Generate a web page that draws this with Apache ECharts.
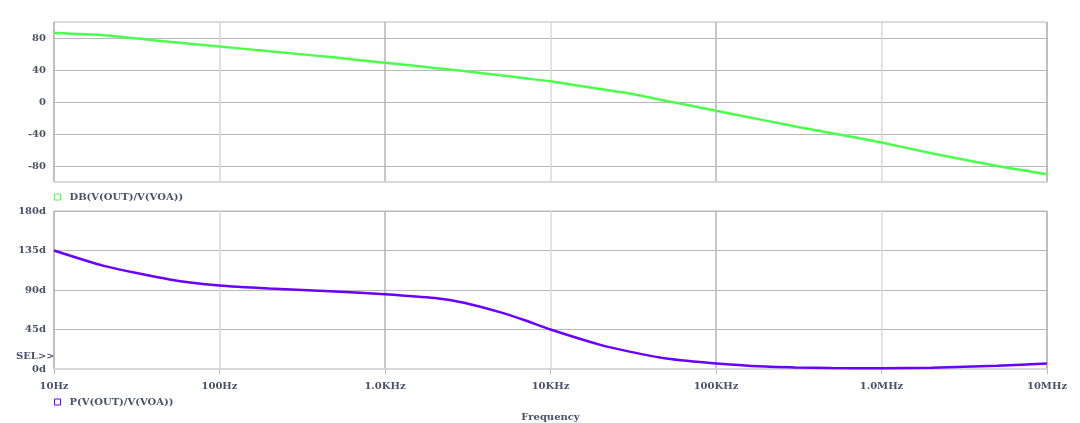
<!DOCTYPE html>
<html>
<head>
<meta charset="utf-8">
<script src="https://cdn.jsdelivr.net/npm/echarts@6/dist/echarts.min.js"></script>
<style>html,body{margin:0;padding:0;background:#fff;}#c{width:1080px;height:423px;}</style>
</head>
<body>
<div id="c"></div>
<script>
const freq = [10,20,50,100,200,500,1e3,2e3,3e3,5e3,7e3,1e4,2e4,3e4,5e4,1e5,2e5,3e5,5e5,1e6,2e6,5e6,1e7];
const magDb = [86.2,83.5,75.3,69.3,63.5,55.5,49.1,42.6,38.8,33.3,29.7,25.8,16.2,10.5,1.4,-10.9,-23.3,-30.5,-39.0,-50.7,-64,-80,-90.3];
const phaseDeg = [135,117.5,102,95,91.6,88.3,85.2,80.8,75.5,64.5,55.5,45,27.5,19.8,12,6.4,2.8,1.8,1.0,0.8,1.5,3.7,6.4];
const xTickValues = [10,100,1e3,1e4,1e5,1e6,1e7];
const xTickLabels = ['10Hz','100Hz','1.0KHz','10KHz','100KHz','1.0MHz','10MHz'];
const magTicks = [-80,-40,0,40,80];
const phaseTicks = [0,45,90,135,180];
const magName = 'DB(V(OUT)/V(VOA))';
const phaseName = 'P(V(OUT)/V(VOA))';

const FONT = 'DejaVu Serif';
const TXT = '#4a5068';
const green = '#4cff4c';
const purple = '#6a00ff';

const chart = echarts.init(document.getElementById('c'));
const labelFor = v => { const i = xTickValues.findIndex(t => Math.abs(t - v) / t < 1e-6); return i >= 0 ? xTickLabels[i] : ''; };
const vSplit = {show:true, lineStyle:{color:['#b4b4b4','#d8d8d8'], width:1.5}};
const txt = {color:TXT, fontFamily:FONT, fontSize:10, fontWeight:'bold'};
chart.setOption({
  animation:false,
  textStyle:{fontFamily:FONT},
  grid:[
    {left:54, right:33, top:22, height:160, show:true, borderColor:'#b8b8b8', borderWidth:1},
    {left:54, right:33, top:211, height:160, show:true, borderColor:'#b8b8b8', borderWidth:1}
  ],
  xAxis:[
    {type:'log', logBase:10, min:10, max:1e7, gridIndex:0,
     axisLine:{show:true, onZero:false, lineStyle:{color:'#d8d8d8', width:2}},
     axisTick:{show:false}, axisLabel:{show:false}, splitLine:vSplit},
    {type:'log', logBase:10, min:10, max:1e7, gridIndex:1,
     name:'Frequency', nameLocation:'middle', nameGap:43,
     nameTextStyle:txt,
     axisLine:{show:true, onZero:false, lineStyle:{color:'#d8d8d8', width:2}},
     axisTick:{show:true, length:5, inside:false, lineStyle:{color:'#b8b8b8'}},
     axisLabel:Object.assign({show:true, margin:12, formatter:labelFor}, txt),
     splitLine:vSplit}
  ],
  yAxis:[
    {type:'value', min:-100, max:100, gridIndex:0,
     axisLine:{show:false}, axisTick:{show:false, customValues:magTicks},
     axisLabel:Object.assign({customValues:magTicks, margin:8, verticalAlign:'middle'}, txt),
     splitLine:{show:true, lineStyle:{color:'#b8b8b8', width:1}}},
    {type:'value', min:0, max:180, interval:45, gridIndex:1,
     axisLine:{show:false}, axisTick:{show:false},
     axisLabel:Object.assign({margin:8, verticalAlign:'middle', formatter:'{value}d'}, txt),
     splitLine:{show:true, lineStyle:{color:'#b8b8b8', width:1}}}
  ],
  legend:[
    {left:54, top:192, icon:'rect', itemWidth:6, itemHeight:6, padding:0,
     textStyle:Object.assign({padding:[0,0,0,4]}, txt),
     data:[{name:magName, itemStyle:{color:'#fff', borderColor:green, borderWidth:1}}]},
    {left:54, top:397, icon:'rect', itemWidth:6, itemHeight:6, padding:0,
     textStyle:Object.assign({padding:[0,0,0,4]}, txt),
     data:[{name:phaseName, itemStyle:{color:'#fff', borderColor:purple, borderWidth:1}}]}
  ],
  graphic:[
    {type:'text', left:16, top:351, style:{text:'SEL>>', fill:TXT, font:'bold 10px "DejaVu Serif"'}}
  ],
  series:[
    {name:magName, type:'line', xAxisIndex:0, yAxisIndex:0, showSymbol:false, smooth:0.2,
     lineStyle:{color:green, width:2.5}, itemStyle:{color:green},
     data:freq.map((f,i)=>[f, magDb[i]])},
    {name:phaseName, type:'line', xAxisIndex:1, yAxisIndex:1, showSymbol:false, smooth:0.2,
     lineStyle:{color:purple, width:2.5}, itemStyle:{color:purple},
     data:freq.map((f,i)=>[f, phaseDeg[i]])}
  ]
});
</script>
</body>
</html>
